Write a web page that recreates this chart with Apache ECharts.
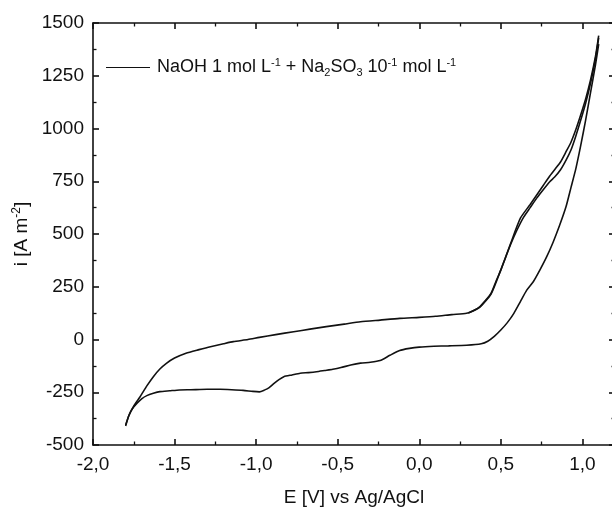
<!DOCTYPE html>
<html>
<head>
<meta charset="utf-8">
<script src="https://cdn.jsdelivr.net/npm/echarts@6/dist/echarts.min.js"></script>
<style>
  html, body { margin: 0; padding: 0; background: #fff; }
  #chart { width: 612px; height: 508px; }
</style>
</head>
<body>
<div id="chart"></div>
<script>
// Cyclic voltammogram: potential E (V vs Ag/AgCl) and current density i (A m^-2)

// anodic sweep, -1.8 V -> 1.1 V
const fwdE = [-1.80,-1.78,-1.75,-1.71,-1.67,-1.63,-1.59,-1.55,-1.50,-1.43,-1.35,-1.28,-1.20,-1.14,-1.05,-0.98,-0.88,-0.77,-0.67,-0.57,-0.46,-0.36,-0.24,-0.12,0.00,0.10,0.20,0.29,0.33,0.37,0.40,0.44,0.47,0.50,0.53,0.56,0.60,0.64,0.68,0.72,0.76,0.80,0.83,0.865,0.90,0.93,0.96,0.99,1.02,1.05,1.08,1.10];
const fwdI = [-405,-360,-315,-270,-220,-176,-140,-113,-88,-65,-48,-34,-20,-10,0,10,23,37,49,61,73,84,92,100,105,110,118,124,135,155,180,219,275,329,390,450,520,580,625,670,710,748,770,803,850,898,965,1040,1120,1214,1330,1430];

// cathodic sweep, 1.1 V -> -1.8 V
const revE = [1.10,1.08,1.05,1.02,0.99,0.96,0.93,0.90,0.86,0.82,0.78,0.74,0.70,0.66,0.62,0.58,0.54,0.50,0.46,0.42,0.38,0.29,0.18,0.09,0.00,-0.06,-0.12,-0.18,-0.24,-0.30,-0.36,-0.42,-0.48,-0.53,-0.58,-0.63,-0.68,-0.73,-0.78,-0.83,-0.86,-0.89,-0.92,-0.95,-0.98,-1.02,-1.08,-1.15,-1.22,-1.30,-1.40,-1.47,-1.53,-1.59,-1.63,-1.67,-1.70,-1.73,-1.76,-1.78,-1.80];
const revI = [1400,1300,1170,1040,920,810,720,630,540,460,390,330,275,235,180,124,80,45,15,-8,-20,-27,-30,-32,-36,-42,-52,-75,-100,-108,-112,-121,-133,-141,-147,-153,-157,-160,-168,-176,-190,-208,-228,-240,-248,-246,-241,-238,-236,-236,-238,-239,-243,-247,-255,-266,-280,-302,-330,-360,-410];

// second anodic sweep in the oxidation region
const fwd2E = [0.30,0.37,0.44,0.50,0.56,0.62,0.68,0.72,0.76,0.80,0.83,0.865,0.90,0.93,0.96,0.99,1.02,1.05,1.08,1.10];
const fwd2I = [126,152,215,330,455,575,640,685,730,775,805,840,890,935,995,1065,1140,1230,1340,1440];

// axis ranges and ticks
const xMin = -2.0, xMax = 1.2, xStep = 0.5;
const yMin = -500, yMax = 1500, yStep = 250;

const legendName = 'NaOH 1 mol L-1 + Na2SO3 10-1 mol L-1';

function pairs(xs, ys) { return xs.map((x, k) => [x, ys[k]]); }
function comma(v) { return v.toFixed(1).replace('.', ','); }

const FONT = 'Liberation Sans, Arial, sans-serif';
const INK = '#111';

const tickStyle = { inside: true, length: 6, lineStyle: { color: INK, width: 1.6 } };
const minorStyle = { show: true, splitNumber: 2, length: 3.5, lineStyle: { color: INK, width: 1.3 } };
const lineStyleAxis = { show: true, onZero: false, lineStyle: { color: INK, width: 1.6 } };

const lineSeries = (name, data) => ({
  name, type: 'line', data, showSymbol: false, symbol: 'none', smooth: 0.2,
  lineStyle: { color: INK, width: 1.6 }, itemStyle: { color: INK }, z: 3
});

const chart = echarts.init(document.getElementById('chart'), null, { renderer: 'canvas' });
chart.setOption({
  backgroundColor: '#fff',
  animation: false,
  grid: { left: 93, top: 23, width: 522, height: 422, containLabel: false, outerBoundsMode: 'none' },
  legend: {
    show: true,
    data: [{ name: legendName, icon: 'rect' }],
    left: 101, top: 52,
    itemWidth: 44, itemHeight: 1.2, itemGap: 6,
    formatter: function () {
      return 'NaOH 1 mol L{sup|-1} + Na{sub|2}SO{sub|3} 10{sup|-1} mol L{sup|-1}';
    },
    textStyle: {
      fontFamily: FONT, fontSize: 18, color: INK, padding: [0, 0, 0, 2],
      rich: {
        sup: { fontFamily: FONT, fontSize: 11, color: INK, padding: [0, 0, 10, 0] },
        sub: { fontFamily: FONT, fontSize: 11, color: INK, padding: [11, 0, 0, 0] }
      }
    }
  },
  xAxis: [{
    type: 'value', min: xMin, max: xMax, interval: xStep, position: 'bottom',
    axisLine: lineStyleAxis, axisTick: tickStyle, minorTick: minorStyle,
    splitLine: { show: false },
    axisLabel: { formatter: comma, showMaxLabel: false, fontFamily: FONT, fontSize: 19, color: INK, margin: 10 },
    name: 'E [V] vs Ag/AgCl', nameLocation: 'middle', nameGap: 43,
    nameTextStyle: { fontFamily: FONT, fontSize: 19, color: INK }
  }, {
    type: 'value', min: xMin, max: xMax, interval: xStep, position: 'top',
    axisLine: lineStyleAxis, axisTick: tickStyle, minorTick: minorStyle,
    splitLine: { show: false }, axisLabel: { show: false }
  }],
  yAxis: [{
    type: 'value', min: yMin, max: yMax, interval: yStep, position: 'left',
    axisLine: lineStyleAxis, axisTick: tickStyle, minorTick: minorStyle,
    splitLine: { show: false },
    axisLabel: { formatter: v => String(v), fontFamily: FONT, fontSize: 19, color: INK, margin: 9 },
    name: 'i [A m{sup|-2}]', nameLocation: 'middle', nameGap: 55, nameRotate: 90,
    nameTextStyle: {
      fontFamily: FONT, fontSize: 19, color: INK,
      rich: { sup: { fontFamily: FONT, fontSize: 12, color: INK, padding: [0, 0, 10, 0] } }
    }
  }, {
    type: 'value', min: yMin, max: yMax, interval: yStep, position: 'right',
    axisLine: lineStyleAxis, axisTick: tickStyle, minorTick: minorStyle,
    splitLine: { show: false }, axisLabel: { show: false }
  }],
  series: [
    lineSeries(legendName, pairs(fwdE, fwdI)),
    lineSeries('cathodic', pairs(revE, revI)),
    lineSeries('anodic 2', pairs(fwd2E, fwd2I))
  ]
});
</script>
</body>
</html>
